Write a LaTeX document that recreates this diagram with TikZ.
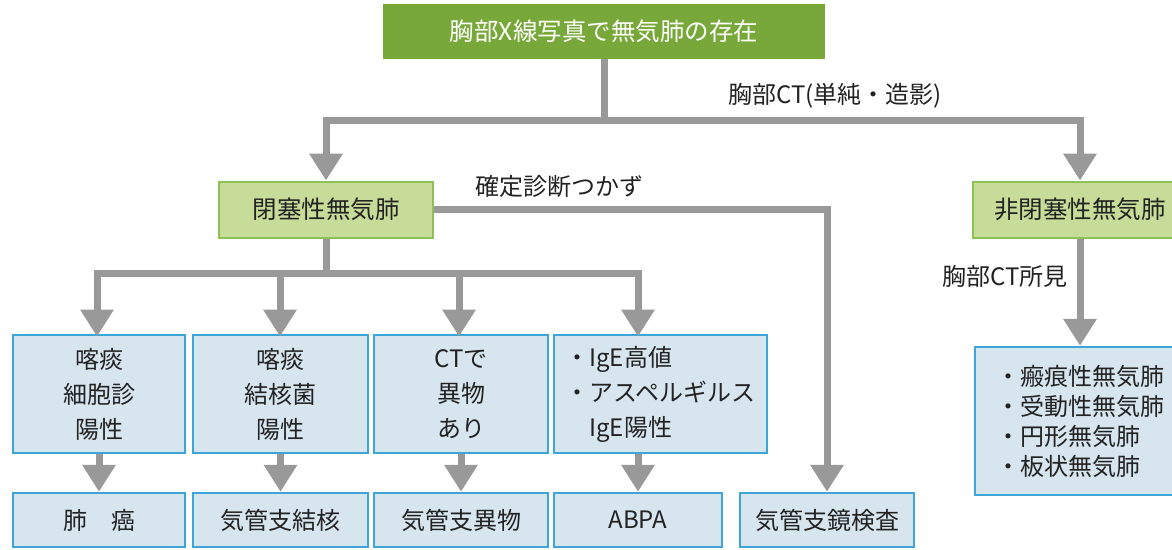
\documentclass[tikz,border=0pt]{standalone}
\usepackage{fontspec}
\setmainfont{Noto Sans CJK JP}
\usetikzlibrary{arrows.meta}
\definecolor{topgreen}{HTML}{78A83A}
\definecolor{lightgreen}{HTML}{C6DC98}
\definecolor{greenborder}{HTML}{8DC153}
\definecolor{lightblue}{HTML}{D7E5EE}
\definecolor{blueborder}{HTML}{3EA6D6}
\definecolor{linegray}{HTML}{999999}
\definecolor{txt}{HTML}{222222}
\tikzset{
  topbox/.style={fill=topgreen, draw=none, text=white, minimum width=442pt, minimum height=55pt, inner sep=0pt, font=\fontsize{24.5}{28}\selectfont},
  greenbox/.style={fill=lightgreen, draw=greenborder, line width=2pt, text=txt, minimum width=214pt, minimum height=56pt, inner sep=0pt, font=\fontsize{24.5}{28}\selectfont},
  bluebox/.style={fill=lightblue, draw=blueborder, line width=2.5pt, text=txt, inner sep=0pt, font=\fontsize{24}{35}\selectfont, align=center},
  link/.style={draw=linegray, line width=7pt, line join=miter},
  flowarrow/.style={link, -{Triangle[width=32pt,length=27pt]}},
  lbl/.style={text=txt, font=\fontsize{24}{26}\selectfont, inner sep=0pt}
}
\begin{document}
\begin{tikzpicture}[x=1pt,y=-1pt]
\useasboundingbox (0,0) rectangle (1172,549);
% nodes
\node[topbox] (top) at (604,31) {胸部X線写真で無気肺の存在};
\node[greenbox] (obs) at (326,209.5) {閉塞性無気肺};
\node[greenbox] (nonobs) at (1080,209.5) {非閉塞性無気肺};

\node[bluebox, minimum width=172pt, minimum height=118pt] (r1) at (99,394) {喀痰\\細胞診\\陽性};
\node[bluebox, minimum width=175pt, minimum height=118pt] (r2) at (280.5,394) {喀痰\\結核菌\\陽性};
\node[bluebox, minimum width=174pt, minimum height=118pt] (r3) at (461,394) {CTで\\異物\\あり};
\node[bluebox, minimum width=213pt, minimum height=118pt, align=left] (r4) at (660.5,394) {・IgE高値\\・アスペルギルス\\\hphantom{・}IgE陽性};

\node[bluebox, minimum width=172pt, minimum height=54pt] (b1) at (99,520) {肺\hspace{1em}癌};
\node[bluebox, minimum width=175pt, minimum height=54pt] (b2) at (280.5,520) {気管支結核};
\node[bluebox, minimum width=174pt, minimum height=54pt] (b3) at (461,520) {気管支異物};
\node[bluebox, minimum width=168pt, minimum height=54pt] (b4) at (638,520) {ABPA};
\node[bluebox, minimum width=174pt, minimum height=54pt] (b5) at (827,520) {気管支鏡検査};

\node[bluebox, minimum width=210pt, minimum height=148pt, align=left, font=\fontsize{24}{30}\selectfont] (list) at (1080,421) {・瘢痕性無気肺\\・受動性無気肺\\・円形無気肺\\・板状無気肺};

% labels
\node[lbl] (l1) at (835,96) {胸部CT(単純・造影)};
\node[lbl] (l2) at (559,186) {確定診断つかず};
\node[lbl] (l3) at (1005,276) {胸部CT所見};

% junction coordinates
\coordinate (j1) at (604,120);
\coordinate (j2) at (326,273);

% connectors
\draw[link] (top.south) -- (j1);
\draw[flowarrow] (j1) -| (obs.north);
\draw[flowarrow] (j1) -| (nonobs.north);

\draw[link] (obs.south) -- (j2);
\draw[flowarrow] (j2) -| (97,336.5);
\draw[flowarrow] (j2) -| (280,336.5);
\draw[flowarrow] (j2) -| (459,336.5);
\draw[flowarrow] (j2) -| (638,336.5);

\draw[flowarrow] (obs.east) -| (b5.north);

\draw[flowarrow] (r1.south -| b1.north) -- (b1.north);
\draw[flowarrow] (r2.south -| b2.north) -- (b2.north);
\draw[flowarrow] (r3.south -| b3.north) -- (b3.north);
\draw[flowarrow] (r4.south -| b4.north) -- (b4.north);

\draw[flowarrow] (nonobs.south) -- (list.north);
\end{tikzpicture}
\end{document}
